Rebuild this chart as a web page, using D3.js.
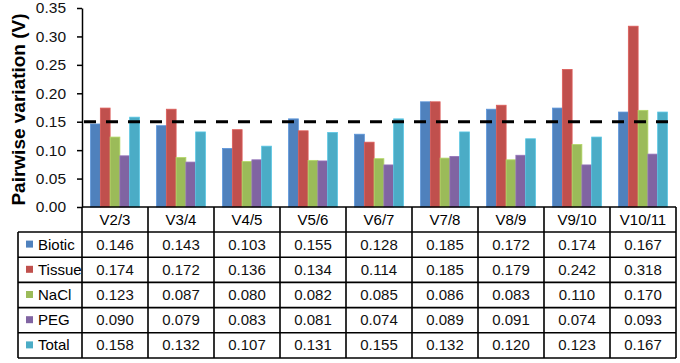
<!DOCTYPE html>
<html>
<head>
<meta charset="utf-8">
<script src="https://cdn.jsdelivr.net/npm/d3@7"></script>
<style>
  body { margin: 0; background: #fff; }
  svg { display: block; font-family: "Liberation Sans", Arial, sans-serif; }
</style>
</head>
<body>
<div id="chart"></div>
<script>
// Chart data
const categories = ['V2/3', 'V3/4', 'V4/5', 'V5/6', 'V6/7', 'V7/8', 'V8/9', 'V9/10', 'V10/11'];
const seriesNames = ['Biotic', 'Tissue', 'NaCl', 'PEG', 'Total'];
const biotic = [0.146, 0.143, 0.103, 0.155, 0.128, 0.185, 0.172, 0.174, 0.167];
const tissue = [0.174, 0.172, 0.136, 0.134, 0.114, 0.185, 0.179, 0.242, 0.318];
const nacl   = [0.123, 0.087, 0.080, 0.082, 0.085, 0.086, 0.083, 0.110, 0.170];
const peg    = [0.090, 0.079, 0.083, 0.081, 0.074, 0.089, 0.091, 0.074, 0.093];
const total  = [0.158, 0.132, 0.107, 0.131, 0.155, 0.132, 0.120, 0.123, 0.167];
const yTicks = [0, 0.05, 0.10, 0.15, 0.20, 0.25, 0.30, 0.35];
const threshold = 0.15;

const seriesValues = [biotic, tissue, nacl, peg, total];
const colors = ['#4f81bd', '#c0504d', '#9bbb59', '#8064a2', '#4bacc6'];

const width = 680, height = 363;
const plotLeft = 82, plotRight = 676, plotTop = 8, plotBottom = 207;
const headerH = 25, rowH = 25.2, labelLeft = 18;

const svg = d3.select('#chart').append('svg')
  .attr('width', width)
  .attr('height', height);

const x = d3.scaleBand().domain(categories).range([plotLeft, plotRight]);
const bw = x.bandwidth();
const x1 = d3.scaleBand().domain(seriesNames).range([bw * 0.13, bw * 0.87]);
const y = d3.scaleLinear().domain([0, 0.35]).range([plotBottom, plotTop]);
const color = d3.scaleOrdinal(seriesNames, colors);

// Bars
const groups = svg.append('g').selectAll('g')
  .data(seriesNames)
  .join('g')
  .attr('fill', d => color(d))
  .attr('stroke', d => d3.color(color(d)).brighter(0.4))
  .attr('stroke-width', 0.8);

groups.selectAll('rect')
  .data((s, i) => seriesValues[i].map((v, j) => ({ s, v, c: categories[j] })))
  .join('rect')
  .attr('x', d => x(d.c) + x1(d.s))
  .attr('y', d => y(d.v))
  .attr('width', x1.bandwidth())
  .attr('height', d => plotBottom - y(d.v));

// Dashed threshold line
svg.append('line')
  .attr('x1', plotLeft + 2).attr('x2', plotRight)
  .attr('y1', y(threshold)).attr('y2', y(threshold))
  .attr('stroke', '#000')
  .attr('stroke-width', 3)
  .attr('stroke-dasharray', '12,10');

// Y axis
const yAxis = svg.append('g')
  .attr('transform', `translate(${plotLeft},0)`)
  .call(d3.axisLeft(y).tickValues(yTicks).tickFormat(d3.format('.2f'))
    .tickSize(5).tickSizeOuter(0).tickPadding(11));
yAxis.select('.domain').attr('stroke', '#000').attr('stroke-width', 1.5);
yAxis.selectAll('.tick line').attr('stroke', '#000').attr('stroke-width', 1.5);
yAxis.selectAll('.tick text')
  .attr('font-size', 15.5)
  .attr('font-family', '"Liberation Sans", Arial, sans-serif')
  .attr('fill', '#111');

svg.append('text')
  .attr('transform', `translate(25,${(plotTop + plotBottom) / 2 + 2}) rotate(-90)`)
  .attr('text-anchor', 'middle')
  .attr('font-size', 19)
  .attr('font-weight', 'bold')
  .attr('fill', '#000')
  .text('Pairwise variation (V)');

// Data table
const table = svg.append('g');
const rowY = d3.scaleBand().domain(seriesNames)
  .range([plotBottom + headerH, plotBottom + headerH + rowH * seriesNames.length]);
const tableBottom = rowY.range()[1];

// Header labels
table.selectAll('.hdr')
  .data(categories)
  .join('text')
  .attr('class', 'hdr')
  .attr('x', d => x(d) + bw / 2)
  .attr('y', plotBottom + headerH / 2 + 5)
  .attr('text-anchor', 'middle')
  .attr('font-size', 15)
  .attr('fill', '#000')
  .text(d => d);

// Row labels with legend keys
const rows = table.selectAll('.row')
  .data(seriesNames)
  .join('g')
  .attr('class', 'row')
  .attr('transform', d => `translate(0,${rowY(d)})`);

rows.append('rect')
  .attr('x', 26).attr('y', rowH / 2 - 4)
  .attr('width', 7).attr('height', 7)
  .attr('fill', d => color(d));

rows.append('text')
  .attr('x', 38).attr('y', rowH / 2 + 5)
  .attr('font-size', 15)
  .attr('fill', '#000')
  .text(d => d);

rows.selectAll('.val')
  .data((s, i) => seriesValues[i].map((v, j) => ({ v, c: categories[j] })))
  .join('text')
  .attr('class', 'val')
  .attr('x', d => x(d.c) + bw / 2)
  .attr('y', rowH / 2 + 5)
  .attr('text-anchor', 'middle')
  .attr('font-size', 15)
  .attr('fill', '#111')
  .text(d => d3.format('.3f')(d.v));

// Table grid lines
const gridColor = '#000', gridW = 1.6;
const hLines = [plotBottom + headerH, ...seriesNames.map(s => rowY(s) + rowH)];
table.selectAll('.hline')
  .data(hLines)
  .join('line')
  .attr('x1', labelLeft).attr('x2', plotRight)
  .attr('y1', d => d).attr('y2', d => d)
  .attr('stroke', gridColor).attr('stroke-width', gridW);

// header top line (x axis) across category columns
table.append('line')
  .attr('x1', plotLeft).attr('x2', plotRight)
  .attr('y1', plotBottom).attr('y2', plotBottom)
  .attr('stroke', gridColor).attr('stroke-width', gridW);

const vLines = [...categories.map(c => x(c)), plotRight];
table.selectAll('.vline')
  .data(vLines)
  .join('line')
  .attr('x1', d => d).attr('x2', d => d)
  .attr('y1', plotBottom).attr('y2', tableBottom)
  .attr('stroke', gridColor).attr('stroke-width', gridW);

table.append('line')
  .attr('x1', labelLeft).attr('x2', labelLeft)
  .attr('y1', plotBottom + headerH).attr('y2', tableBottom)
  .attr('stroke', gridColor).attr('stroke-width', gridW);
</script>
</body>
</html>
